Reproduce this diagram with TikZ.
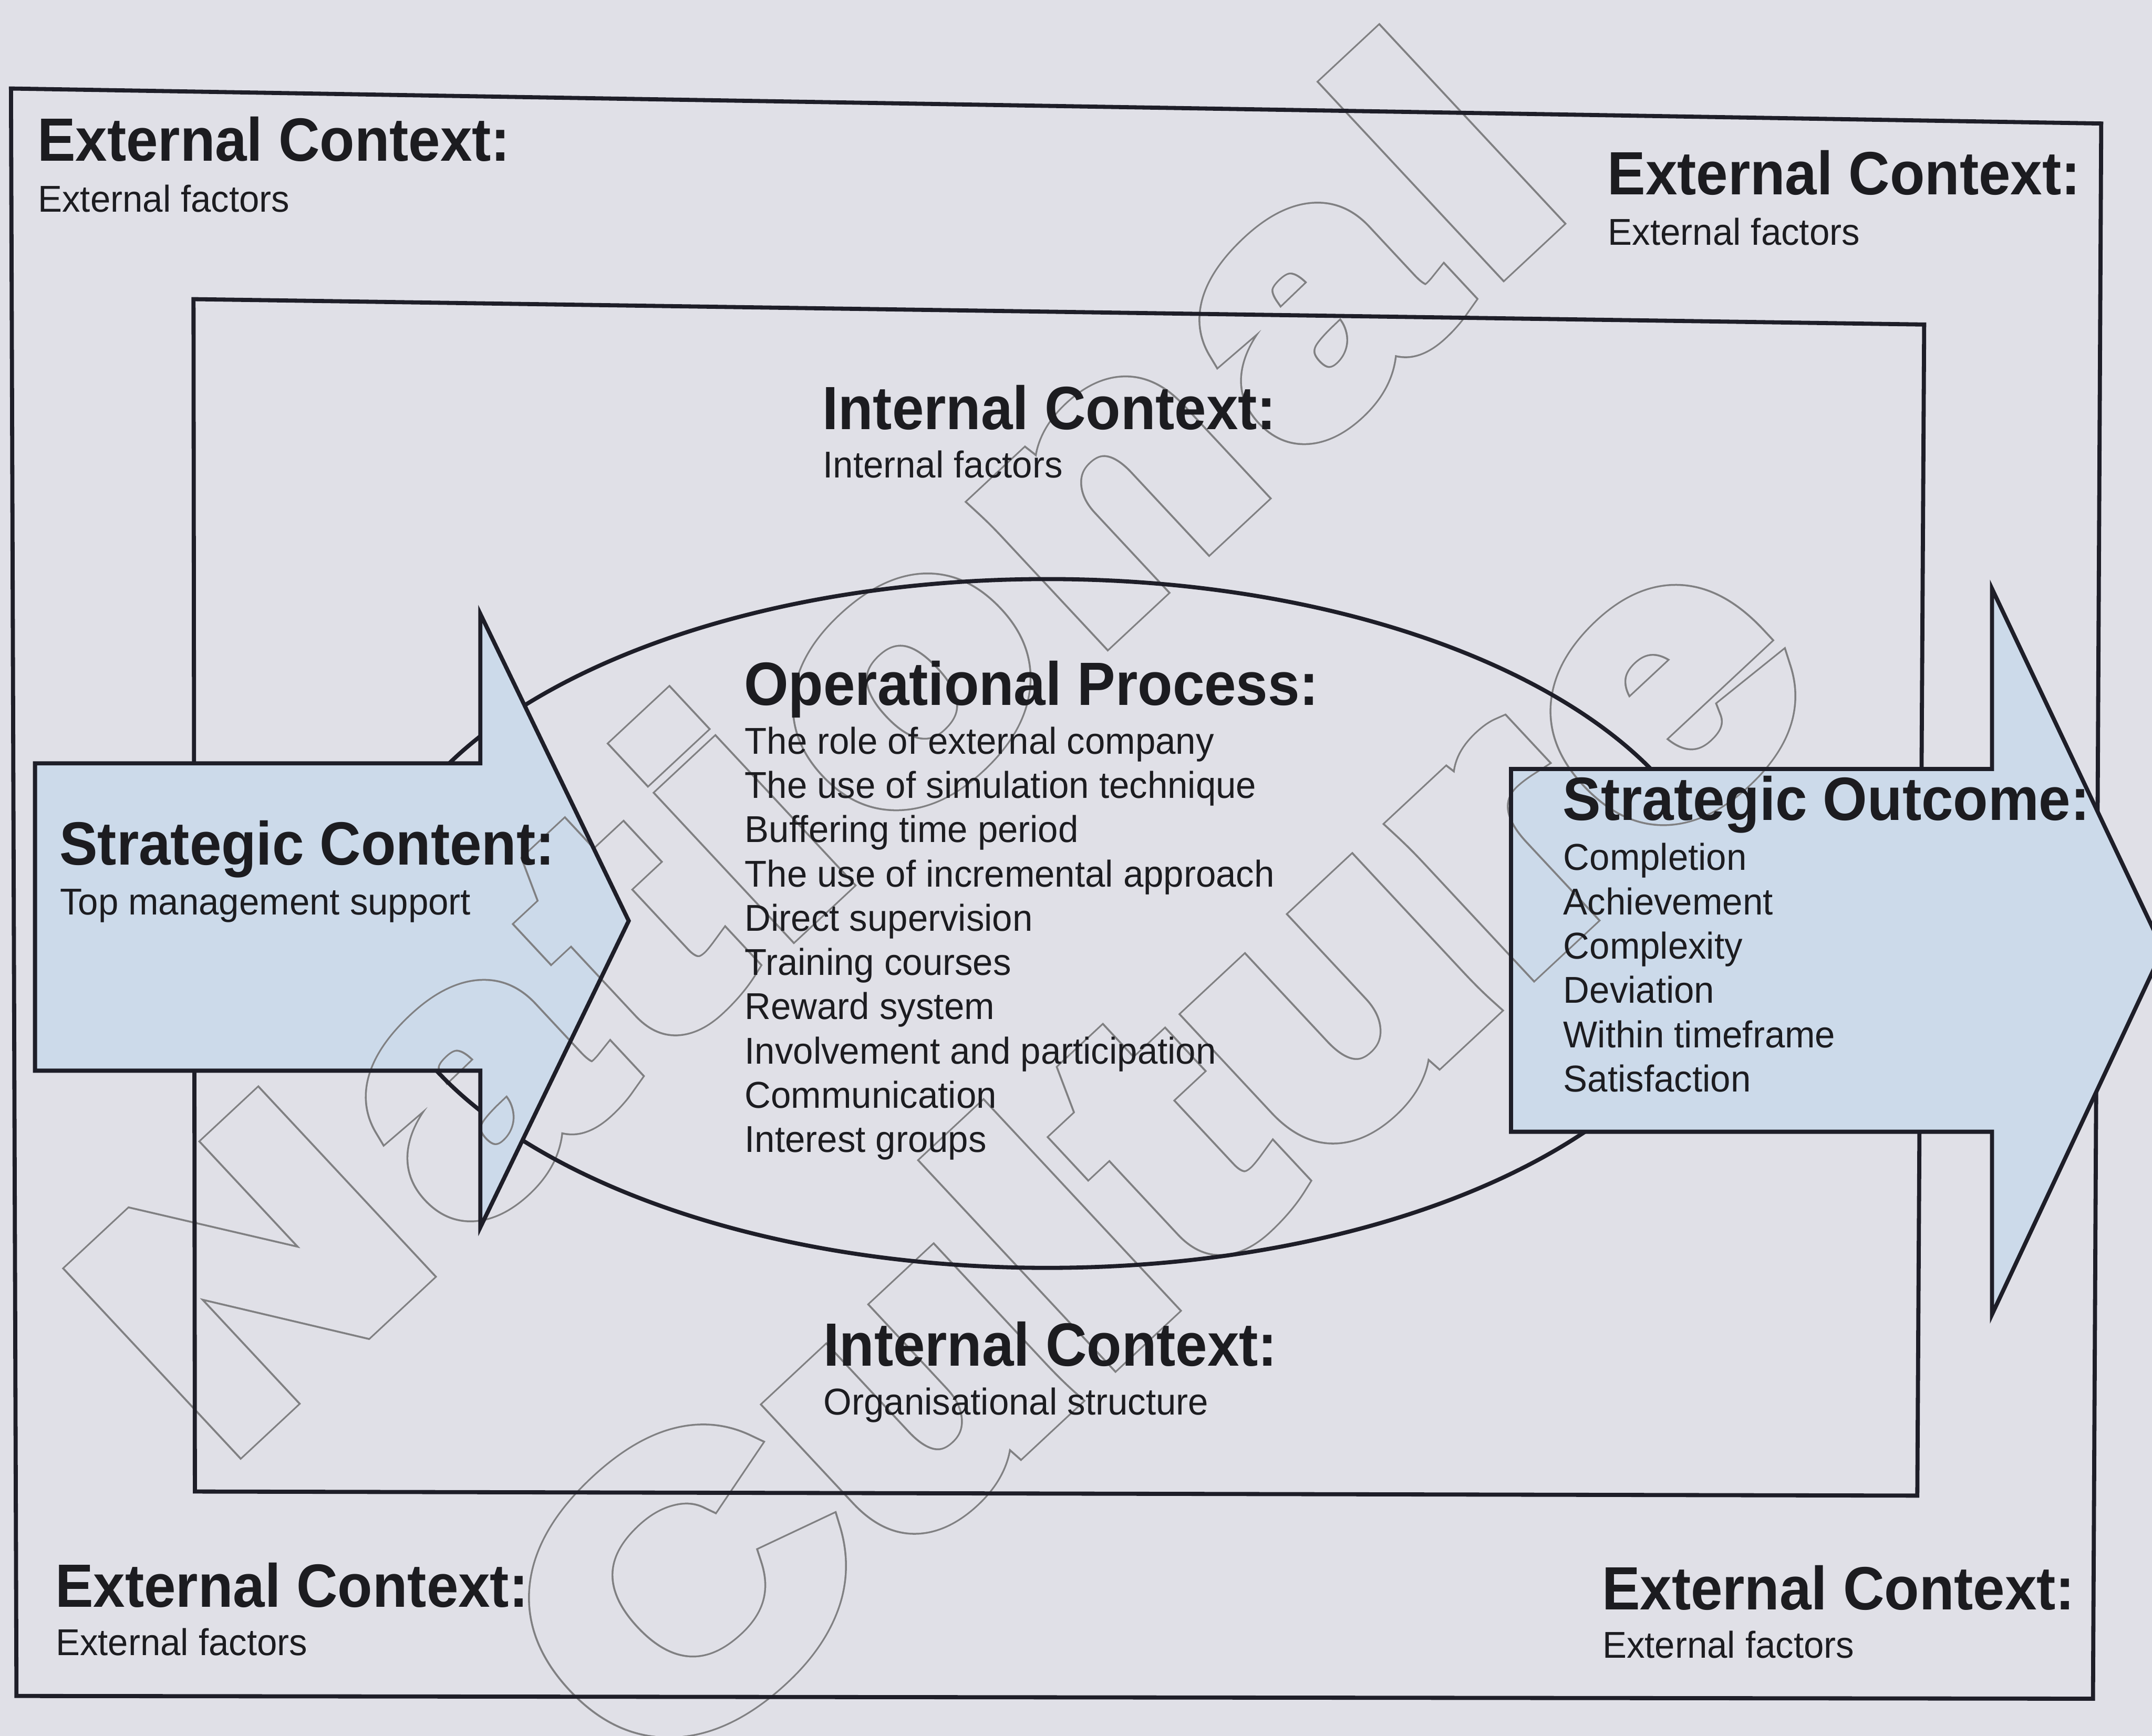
\documentclass[tikz,border=0pt]{standalone}
\usepackage{fontspec}
\setmainfont{Liberation Sans}
\newfontfamily\headfont[FakeStretch=0.935]{Liberation Sans}
\newfontfamily\bodyfont[FakeStretch=0.97]{Liberation Sans}
\newfontfamily\wmNfont[LetterSpace=8.5]{Liberation Sans}
\newfontfamily\wmCfont[LetterSpace=3.7]{Liberation Sans}
\makeatletter
% text render mode 2 (fill + stroke): pen width and one colour for both
\newcommand\wmpen[2]{\pgfsys@invoke{2 Tr #1 w 0 j 2 M #2 rg #2 RG}}
\newcommand\wmoff{\pgfsys@invoke{0 Tr}}
\makeatother
\definecolor{bgcol}{RGB}{224,224,231}
\definecolor{edgecol}{RGB}{30,30,40}
\definecolor{ink}{RGB}{28,28,32}
\definecolor{arrowblue}{RGB}{204,218,234}
\def\ringrgb{0.50 0.50 0.51}
\def\bgrgb{0.878 0.878 0.906}
\def\bluergb{0.800 0.855 0.918}
\tikzset{
  head/.style={anchor=base west, inner sep=0pt, text=ink,
    font=\headfont\bfseries\fontsize{12.66}{15}\selectfont},
  body/.style={anchor=base west, inner sep=0pt, text=ink,
    font=\bodyfont\fontsize{7.74}{9}\selectfont},
  frame/.style={draw=edgecol, line width=0.85pt, line join=miter},
  arrowedge/.style={draw=edgecol, line width=0.85pt, line join=miter},
  wm/.style={anchor=base west, inner sep=0pt, transform shape},
  wmN/.style={wm, font=\wmNfont\bfseries\fontsize{71.1}{80}\selectfont},
  wmC/.style={wm, font=\wmCfont\bfseries\fontsize{75.4}{85}\selectfont},
}
% outlined lettering: a grey ring round each glyph, hollow inside (#1 = inside colour)
\newcommand\lettering[2]{%
  \begin{scope}[shift={(162,1063.5)}, rotate=43, xscale=1.18]
    \node[wmN] (natRing#2) at (0,0) {\wmpen{5.38}{\ringrgb}National\wmoff};
    \node[wmN] (natHole#2) at (0,0) {\wmpen{4.68}{#1}National\wmoff};
  \end{scope}
  \begin{scope}[shift={(476,1301)}, rotate=43, xscale=1.18]
    \node[wmC] (culRing#2) at (0,0) {\wmpen{5.68}{\ringrgb}Culture\wmoff};
    \node[wmC] (culHole#2) at (0,0) {\wmpen{4.98}{#1}Culture\wmoff};
  \end{scope}}
\begin{document}
\begin{tikzpicture}[x=0.01cm, y=-0.01cm]
\useasboundingbox (0,0) rectangle (1568,1265);
\clip (0,0) rectangle (1568,1265);
\fill[bgcol] (0,0) rectangle (1568,1265);

% arrow outlines, kept as named points
\coordinate (la1) at (25.5,556.3);  \coordinate (la2) at (350,556.3);
\coordinate (la3) at (350,447.4);   \coordinate (la4) at (458.1,671.1);
\coordinate (la5) at (350,894.4);   \coordinate (la6) at (350,780.3);
\coordinate (la7) at (25.5,780.3);
\coordinate (ra1) at (1101,560.4);  \coordinate (ra2) at (1451.4,560.4);
\coordinate (ra3) at (1451.4,429);  \coordinate (ra4) at (1576,692);
\coordinate (ra5) at (1451.4,958);  \coordinate (ra6) at (1451.4,824.8);
\coordinate (ra7) at (1101,824.8);

% lettering on the plain ground
\lettering{\bgrgb}{G}

% outer and inner context frames
\draw[frame] (8,64.5) -- (1531,90) -- (1525,1238) -- (12,1236) -- cycle;
\draw[frame] (141,218) -- (1402,236.5) -- (1397,1090) -- (142,1087) -- cycle;

% operational process ellipse
\draw[frame] (763,673) ellipse [x radius=492, y radius=251];

% strategic content / outcome arrows: fill, lettering seen through, outline
\fill[arrowblue] (la1) -- (la2) -- (la3) -- (la4) -- (la5) -- (la6) -- (la7) -- cycle;
\fill[arrowblue] (ra1) -- (ra2) -- (ra3) -- (ra4) -- (ra5) -- (ra6) -- (ra7) -- cycle;
\begin{scope}
  \clip (la1) -- (la2) -- (la3) -- (la4) -- (la5) -- (la6) -- (la7) -- cycle;
  \lettering{\bluergb}{L}
\end{scope}
\begin{scope}
  \clip (ra1) -- (ra2) -- (ra3) -- (ra4) -- (ra5) -- (ra6) -- (ra7) -- cycle;
  \lettering{\bluergb}{R}
\end{scope}
\draw[arrowedge] (la1) -- (la2) -- (la3) -- (la4) -- (la5) -- (la6) -- (la7) -- cycle;
\draw[arrowedge] (ra1) -- (ra2) -- (ra3) -- (ra4) -- (ra5) -- (ra6) -- (ra7) -- cycle;

% external context corners
\node[head] (extTLh) at (26.5,117.5) {External Context:};
\node[body] (extTLb) at (27,154.4) {External factors};
\node[head] (extTRh) at (1170.5,142) {External Context:};
\node[body] (extTRb) at (1171,178.5) {External factors};
\node[head] (extBLh) at (39.6,1171.3) {External Context:};
\node[body] (extBLb) at (40,1206.5) {External factors};
\node[head] (extBRh) at (1166.5,1173) {External Context:};
\node[body] (extBRb) at (1167,1208.5) {External factors};

% internal context
\node[head] (intTh) at (598.5,313) {Internal Context:};
\node[body] (intTb) at (599,348) {Internal factors};
\node[head] (intBh) at (599.3,995.5) {Internal Context:};
\node[body] (intBb) at (599.5,1031) {Organisational structure};

% operational process
\node[head] (oph) at (541.5,514) {Operational Process:};
\foreach \t [count=\i from 0] in {The role of external company,
  The use of simulation technique, Buffering time period,
  The use of incremental approach, Direct supervision, Training courses,
  Reward system, Involvement and participation, Communication,
  Interest groups}
  \node[body] (op\i) at (542,{549.5+32.24*\i}) {\t};

% strategic content
\node[head] (sch) at (42.7,630.3) {Strategic Content:};
\node[body] (scb) at (43,666.5) {Top management support};

% strategic outcome
\node[head] (soh) at (1138,597.6) {Strategic Outcome:};
\foreach \t [count=\i from 0] in {Completion, Achievement, Complexity,
  Deviation, Within timeframe, Satisfaction}
  \node[body] (so\i) at (1138.5,{634.2+32.3*\i}) {\t};
\end{tikzpicture}
\end{document}
